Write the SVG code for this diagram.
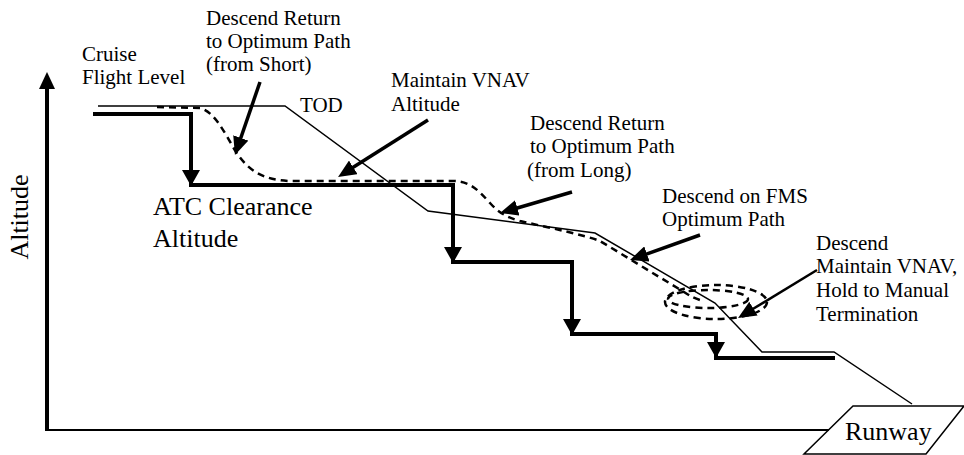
<svg xmlns="http://www.w3.org/2000/svg" width="964" height="455" viewBox="0 0 964 455">
<style>
text{font-family:'Liberation Serif','DejaVu Serif',serif;fill:#000}
.s{font-size:21px}
.l{font-size:26px}
.thin{fill:none;stroke:#000;stroke-width:1.5}
.thick{fill:none;stroke:#000;stroke-width:4;stroke-linejoin:miter}
.dash{fill:none;stroke:#000;stroke-width:2.5;stroke-dasharray:7 5}
.ann{fill:none;stroke:#000;stroke-width:3.5;marker-end:url(#ah)}
</style>
<defs>
<marker id="ah" markerUnits="userSpaceOnUse" markerWidth="18" markerHeight="16" refX="8" refY="8" orient="auto">
<path d="M0,0 L18,8 L0,16 z" fill="#000"/>
</marker>
<polygon id="dh" points="-9,-16 9,-16 0,0" fill="#000"/>
</defs>
<g id="axes">
<line x1="47" y1="431" x2="47" y2="86" stroke="#000" stroke-width="4"/>
<polygon points="47,72 39,89 55,89" fill="#000"/>
<line x1="45" y1="430" x2="829" y2="430" stroke="#000" stroke-width="2"/>
<text class="l" transform="translate(28,217) rotate(-90)" text-anchor="middle">Altitude</text>
</g>
<g id="runway">
<polygon class="thin" points="853,406 964,406 926,454 804,454"/>
<text class="l" x="845" y="440">Runway</text>
</g>
<g id="fms-path">
<polyline class="thin" points="98,106 285,106 428,211 595,233 715,303 762,352 834,352 912,404"/>
</g>
<g id="atc-steps">
<polyline class="thick" points="93,114 191,114 191,185 453,185 453,262 572,262 572,334 716,334 716,358 835,358"/>
<use href="#dh" x="191" y="186"/>
<use href="#dh" x="453" y="263"/>
<use href="#dh" x="572" y="335"/>
<use href="#dh" x="716" y="358"/>
</g>
<g id="vnav-path">
<path class="dash" d="M157,107 L200,108 C215,112 224,132 236,152 C248,170 262,180 290,181 L453,181 C470,181 478,190 490,203 C498,212 506,217 520,221 C550,228 585,235 600,241 L684,292 C690,296 694,298 700,300"/>
<ellipse class="dash" cx="716" cy="302" rx="51" ry="17"/>
<ellipse class="dash" cx="708" cy="299" rx="40" ry="9"/>
</g>
<g id="connectors">
<line class="ann" x1="260" y1="82" x2="238.2" y2="145.5"/>
<line class="ann" x1="428" y1="120" x2="346.5" y2="171.6"/>
<line class="ann" x1="572" y1="192" x2="509.6" y2="210.2"/>
<line class="ann" x1="700" y1="235" x2="639.4" y2="256.6"/>
<line class="ann" x1="817" y1="270" x2="746.6" y2="312.8" style="stroke-width:2.5"/>
</g>
<g id="labels">
<text class="s" x="82" y="61">Cruise</text>
<text class="s" x="82" y="84">Flight Level</text>
<text class="s" x="206" y="25">Descend Return</text>
<text class="s" x="206" y="48">to Optimum Path</text>
<text class="s" x="206" y="71">(from Short)</text>
<text class="s" x="300" y="112">TOD</text>
<text class="s" x="391" y="87">Maintain VNAV</text>
<text class="s" x="391" y="111">Altitude</text>
<text class="s" x="530" y="130">Descend Return</text>
<text class="s" x="530" y="153">to Optimum Path</text>
<text class="s" x="527" y="177">(from Long)</text>
<text class="s" x="662" y="203">Descend on FMS</text>
<text class="s" x="662" y="226">Optimum Path</text>
<text class="s" x="816" y="250">Descend</text>
<text class="s" x="816" y="273">Maintain VNAV,</text>
<text class="s" x="816" y="297">Hold to Manual</text>
<text class="s" x="816" y="321">Termination</text>
<text class="l" x="153" y="215">ATC Clearance</text>
<text class="l" x="153" y="247">Altitude</text>
</g>
</svg>
